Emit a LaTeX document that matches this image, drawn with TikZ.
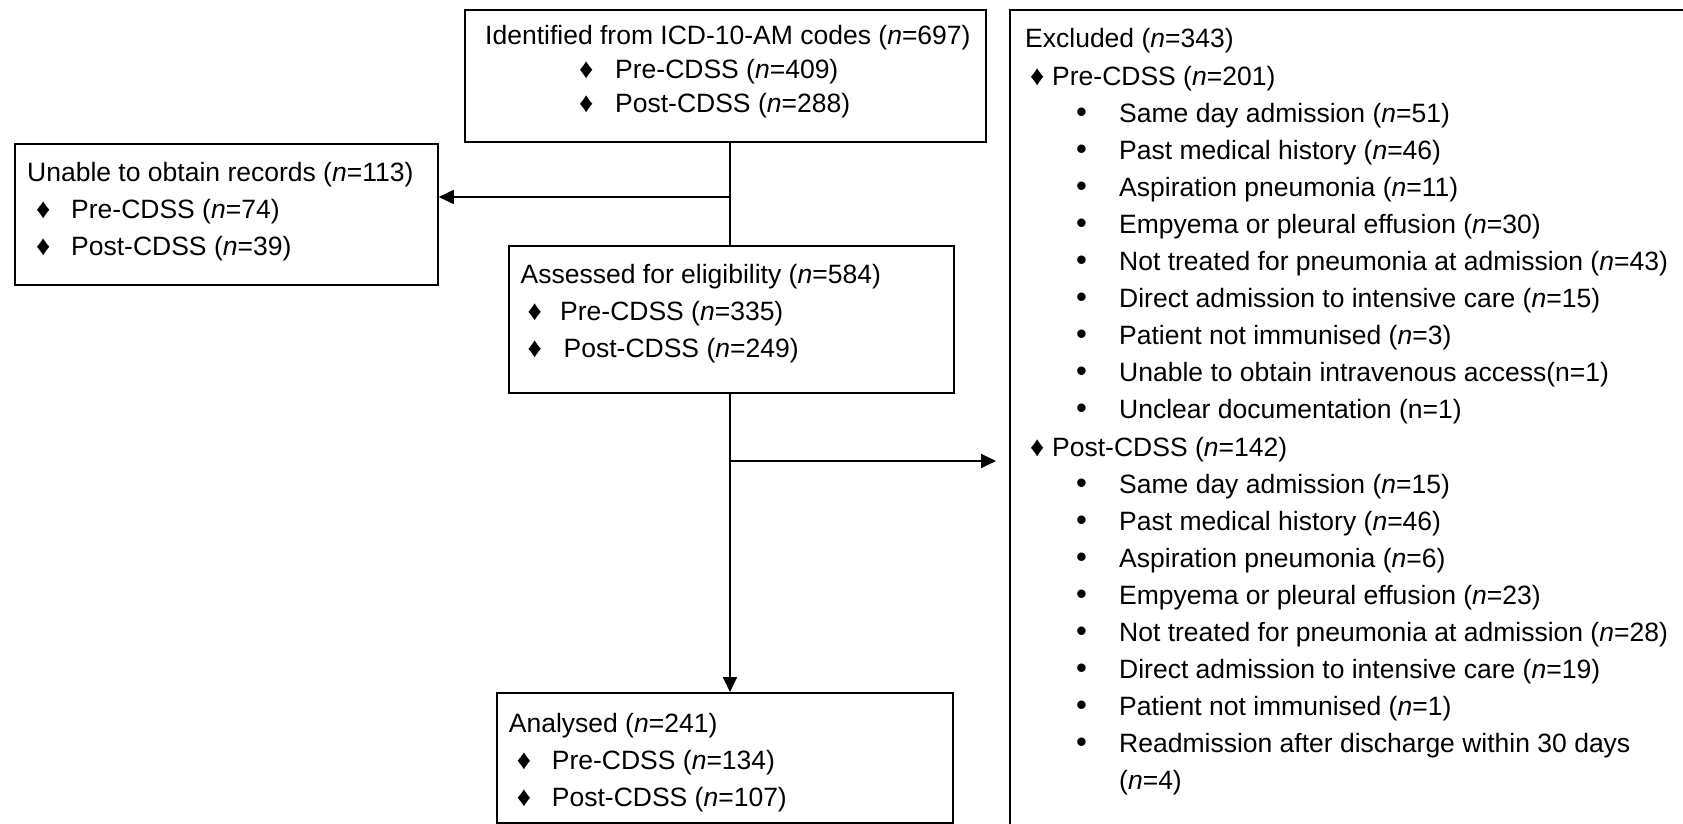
\documentclass[tikz,border=0pt]{standalone}
\usepackage{fontspec}
\setmainfont{Liberation Sans}
\usetikzlibrary{arrows.meta}
\newcommand\nn{\textit{n}}
\newcommand\dia{{\fontsize{28}{28}\selectfont ♦}}
\newcommand\bul{{\fontsize{31}{31}\selectfont •}}
% one line with a marker: indent, marker box width, marker, text
\newcommand\mline[4]{\hspace*{#1pt}\makebox[#2pt][l]{#3}#4}
\begin{document}
\begin{tikzpicture}[x=1pt,y=-1pt,
  box/.style={draw, line width=1.8pt, anchor=north west, inner sep=0pt},
  txt/.style={anchor=base west, inner sep=0pt,
    font=\fontsize{26.5}{37.1}\selectfont},
  link/.style={line width=1.8pt},
  arrow/.style={link, -{Triangle[length=15pt,width=14pt]}}]
\clip (0,0) rectangle (1683,824);
\fill[white] (0,0) rectangle (1683,824);

% boxes
\node[box, minimum width=521pt, minimum height=132pt] (ident) at (464,9) {};
\node[box, minimum width=423pt, minimum height=141pt] (unable) at (14,143) {};
\node[box, minimum width=445pt, minimum height=147pt] (assess) at (508,245) {};
\node[box, minimum width=456pt, minimum height=130pt] (anal) at (496,692) {};
\node[box, minimum width=720pt, minimum height=860pt] (excl) at (1009,9) {};

% texts
\node[txt, font=\fontsize{26.5}{33.8}\selectfont] (identtxt) at (485,45) {%
\begin{tabular}[t]{@{}l@{}}
Identified from ICD-10-AM codes (\nn=697)\\
\mline{94}{36}{\dia}{Pre-CDSS (\nn=409)}\\
\mline{94}{36}{\dia}{Post-CDSS (\nn=288)}
\end{tabular}};

\node[txt] (unabletxt) at (27,181) {%
\begin{tabular}[t]{@{}l@{}}
Unable to obtain records (\nn=113)\\
\mline{9}{35}{\dia}{Pre-CDSS (\nn=74)}\\
\mline{9}{35}{\dia}{Post-CDSS (\nn=39)}
\end{tabular}};

\node[txt] (assesstxt) at (520.5,283) {%
\begin{tabular}[t]{@{}l@{}}
Assessed for eligibility (\nn=584)\\
\mline{7}{32.5}{\dia}{Pre-CDSS (\nn=335)}\\
\mline{7}{36}{\dia}{Post-CDSS (\nn=249)}
\end{tabular}};

\node[txt] (analtxt) at (508.7,732) {%
\begin{tabular}[t]{@{}l@{}}
Analysed (\nn=241)\\
\mline{8}{35}{\dia}{Pre-CDSS (\nn=134)}\\
\mline{8}{35}{\dia}{Post-CDSS (\nn=107)}
\end{tabular}};

\node[txt] (excltxt) at (1025,48) {%
\begin{tabular}[t]{@{}l@{}}
Excluded (\nn=343)\\
\mline{5}{22}{\dia}{Pre-CDSS (\nn=201)}\\
\mline{51}{43}{\bul}{Same day admission (\nn=51)}\\
\mline{51}{43}{\bul}{Past medical history (\nn=46)}\\
\mline{51}{43}{\bul}{Aspiration pneumonia (\nn=11)}\\
\mline{51}{43}{\bul}{Empyema or pleural effusion (\nn=30)}\\
\mline{51}{43}{\bul}{Not treated for pneumonia at admission (\nn=43)}\\
\mline{51}{43}{\bul}{Direct admission to intensive care (\nn=15)}\\
\mline{51}{43}{\bul}{Patient not immunised (\nn=3)}\\
\mline{51}{43}{\bul}{Unable to obtain intravenous access(n=1)}\\
\mline{51}{43}{\bul}{Unclear documentation (n=1)}\\
\mline{5}{22}{\dia}{Post-CDSS (\nn=142)}\\
\mline{51}{43}{\bul}{Same day admission (\nn=15)}\\
\mline{51}{43}{\bul}{Past medical history (\nn=46)}\\
\mline{51}{43}{\bul}{Aspiration pneumonia (\nn=6)}\\
\mline{51}{43}{\bul}{Empyema or pleural effusion (\nn=23)}\\
\mline{51}{43}{\bul}{Not treated for pneumonia at admission (\nn=28)}\\
\mline{51}{43}{\bul}{Direct admission to intensive care (\nn=19)}\\
\mline{51}{43}{\bul}{Patient not immunised (\nn=1)}\\
\mline{51}{43}{\bul}{Readmission after discharge within 30 days}\\
\mline{94}{0}{}{(\nn=4)}
\end{tabular}};

% connectors
\coordinate (splitA) at (730,197);
\coordinate (splitB) at (730,461);
\coordinate (exclend) at (996,461);
\draw[link] (ident.south -| splitA) -- (assess.north -| splitA);
\draw[arrow] (splitA) -- (unable.east |- splitA);
\draw[arrow] (assess.south -| splitA) -- (anal.north -| splitA);
\draw[arrow] (splitB) -- (exclend);
\end{tikzpicture}
\end{document}
